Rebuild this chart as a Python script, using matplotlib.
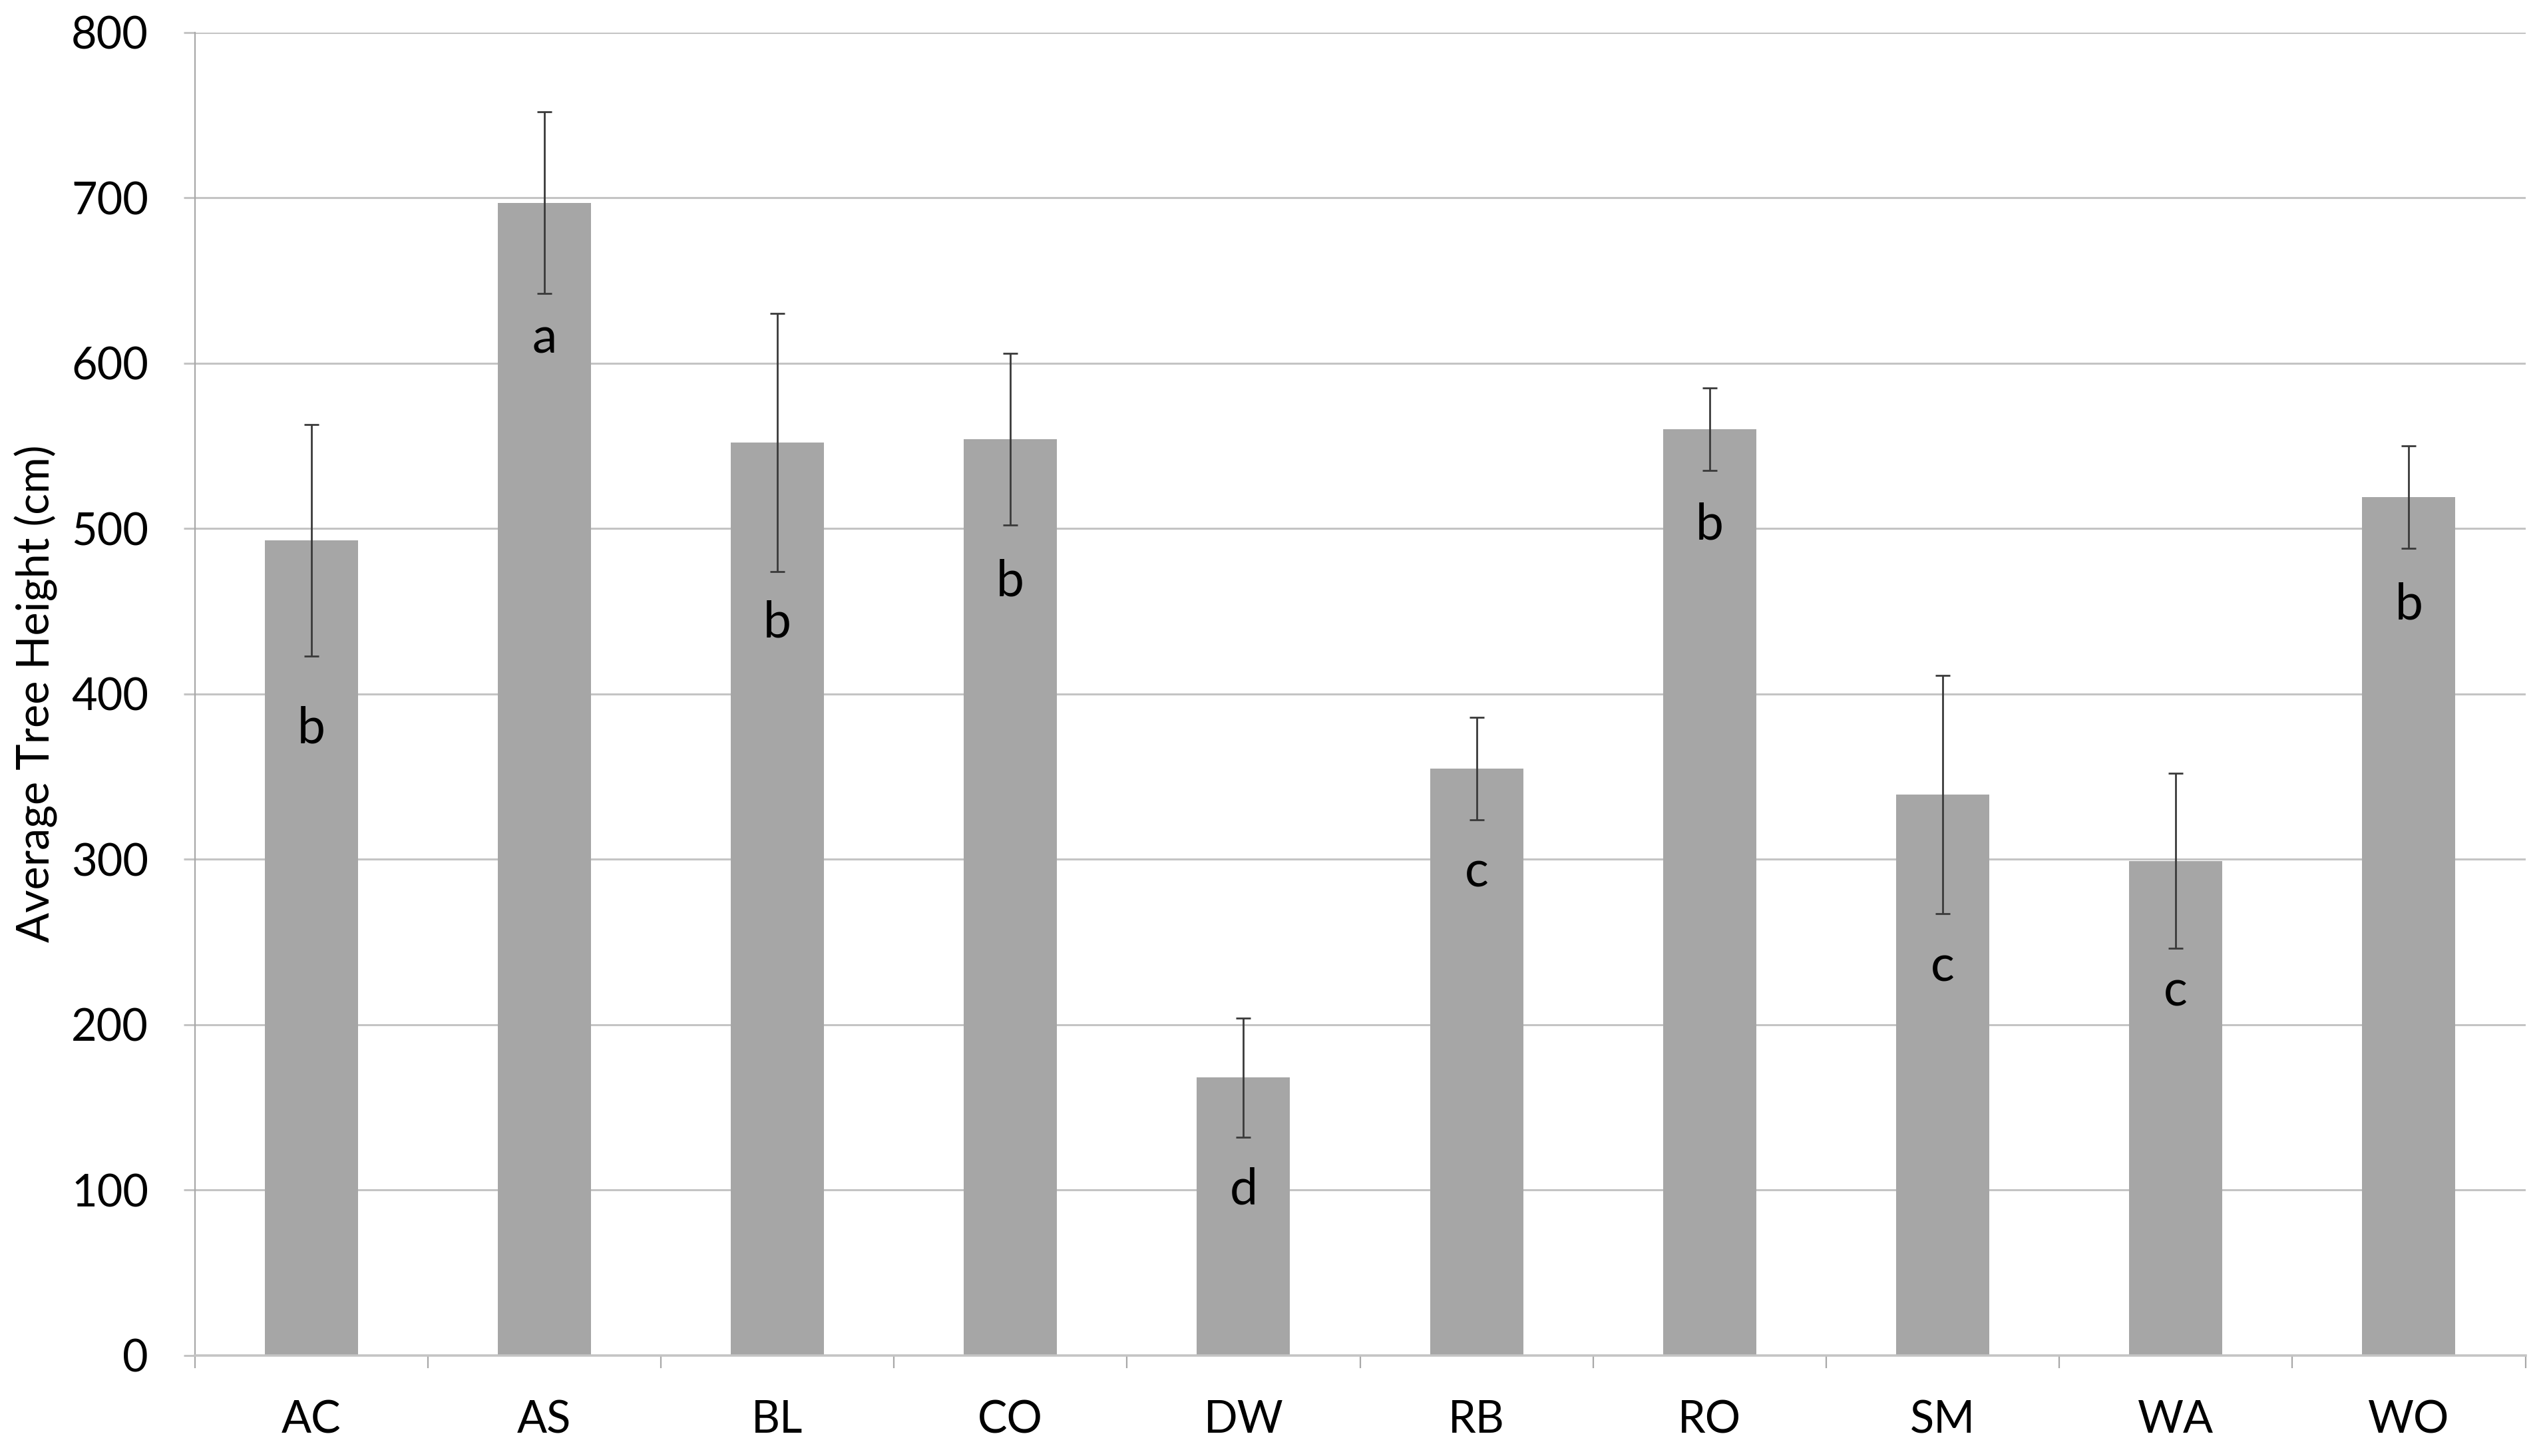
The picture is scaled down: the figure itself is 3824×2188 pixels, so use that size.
import matplotlib
matplotlib.use("Agg")
import matplotlib.pyplot as plt
from matplotlib.ticker import FixedLocator
import numpy as np

plt.rcParams['font.family'] = ['Lato', 'DejaVu Sans']

categories = ["AC", "AS", "BL", "CO", "DW", "RB", "RO", "SM", "WA", "WO"]
heights = [493, 697, 552, 554, 168, 355, 560, 339, 299, 519]
errors = [70, 55, 78, 52, 36, 31, 25, 72, 53, 31]
letters = ["b", "a", "b", "b", "d", "c", "b", "c", "c", "b"]
letter_y = [379, 615, 443, 468, 100, 292, 502, 235, 220, 454]
yticks = [0, 100, 200, 300, 400, 500, 600, 700, 800]
ylabel = "Average Tree Height (cm)"

fig = plt.figure(figsize=(19.12, 10.94), dpi=200)
ax = fig.add_axes([0.0765, 0.0691, 0.9158, 0.9086])

x = np.arange(len(categories))
ax.bar(x, heights, width=0.4, color="#A6A6A6", zorder=2)
ax.errorbar(x, heights, yerr=errors, fmt="none", ecolor="#3A3A3A",
            elinewidth=1.0, capsize=4, capthick=1.0, zorder=3)

for xi, lt, ly in zip(x, letters, letter_y):
    ax.text(xi, ly, lt, ha="center", va="center", fontsize=27, color="black", zorder=4)

ax.set_xlim(-0.5, len(categories) - 0.5)
ax.set_ylim(0, 800)
ax.set_yticks(yticks)
ax.set_yticklabels([str(v) for v in yticks], fontsize=24)
ax.set_xticks(x)
ax.set_xticklabels(categories, fontsize=24)
ax.xaxis.set_minor_locator(FixedLocator(np.arange(-0.5, len(categories), 1.0)))

ax.grid(axis="y", color="#C4C4C4", linewidth=1.1, zorder=0)
ax.set_axisbelow(True)
ax.tick_params(axis="x", which="major", length=0, pad=24)
ax.tick_params(axis="x", which="minor", length=7, width=0.8, color="#A8A8A8")
ax.tick_params(axis="y", which="major", length=6, width=1.1, color="#C4C4C4", pad=19)

for s in ["top", "right"]:
    ax.spines[s].set_visible(False)
ax.spines["left"].set_color("#A8A8A8")
ax.spines["left"].set_linewidth(0.8)
ax.spines["bottom"].set_color("#C4C4C4")
ax.spines["bottom"].set_linewidth(1.3)

fig.text(0.0141, 0.5235, ylabel, rotation=90, ha="center", va="center", fontsize=24)

fig.savefig("out.png", dpi=200)
